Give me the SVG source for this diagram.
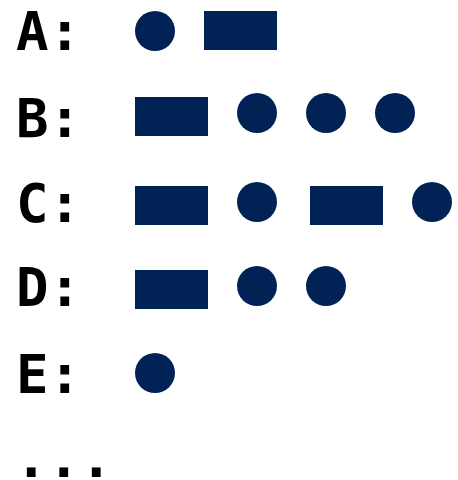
<svg xmlns="http://www.w3.org/2000/svg" width="458" height="480" viewBox="0 0 458 480">
<style>
text{font-family:"DejaVu Sans Mono","Liberation Mono",monospace;font-weight:bold;font-size:54px;fill:#000}
.dot,.dash{fill:#002255}
</style>
<rect width="458" height="480" fill="#fff"/>
<g id="A">
<text x="16" y="49.5">A:</text>
<circle class="dot" cx="155" cy="31" r="20"/>
<rect class="dash" x="204" y="11" width="73" height="39"/>
</g>
<g id="B">
<text x="16" y="136.5">B:</text>
<rect class="dash" x="135" y="97" width="73" height="39"/>
<circle class="dot" cx="257" cy="113" r="20"/>
<circle class="dot" cx="326" cy="113" r="20"/>
<circle class="dot" cx="395" cy="113" r="20"/>
</g>
<g id="C">
<text x="16" y="221.5">C:</text>
<rect class="dash" x="135" y="186" width="73" height="39"/>
<circle class="dot" cx="257" cy="202" r="20"/>
<rect class="dash" x="310" y="186" width="73" height="39"/>
<circle class="dot" cx="432" cy="202" r="20"/>
</g>
<g id="D">
<text x="16" y="305.5">D:</text>
<rect class="dash" x="135" y="270" width="73" height="39"/>
<circle class="dot" cx="257" cy="286" r="20"/>
<circle class="dot" cx="326" cy="286" r="20"/>
</g>
<g id="E">
<text x="16" y="392.5">E:</text>
<circle class="dot" cx="155" cy="373" r="20"/>
</g>
<g id="more">
<text x="15" y="477">...</text>
</g>
<g id="connectors"/>
</svg>
